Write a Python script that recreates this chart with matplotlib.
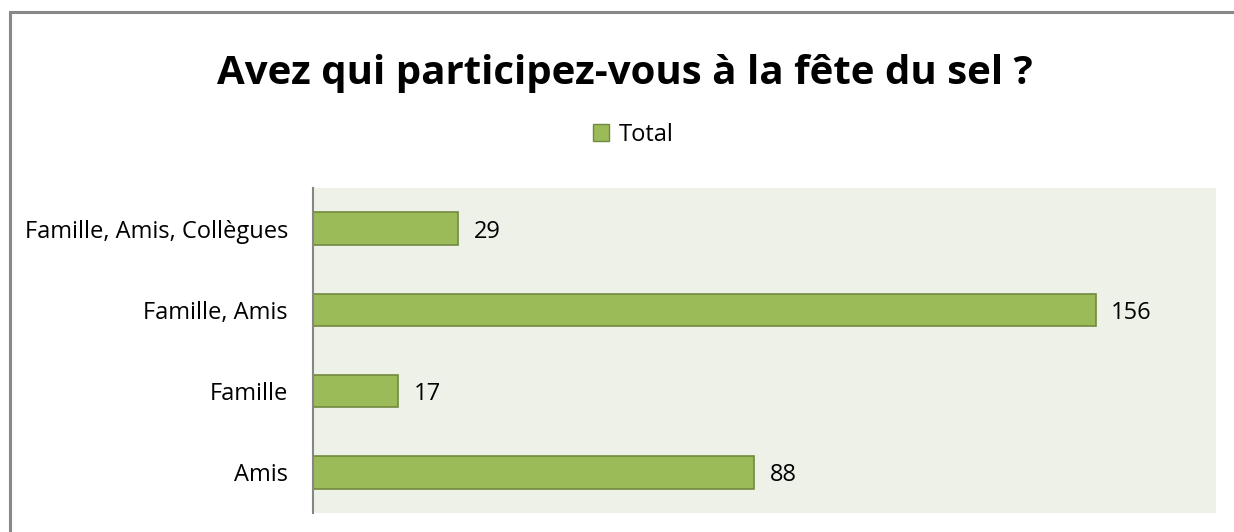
import matplotlib
matplotlib.use("Agg")
import matplotlib.pyplot as plt
from matplotlib.patches import Rectangle, Patch

plt.rcParams['font.family'] = ['Open Sans', 'DejaVu Sans']

# data
categories = ['Amis', 'Famille', 'Famille, Amis', 'Famille, Amis, Collègues']
totals = [88, 17, 156, 29]
title = 'Avez qui participez-vous à la fête du sel ?'
series_name = 'Total'

fig = plt.figure(figsize=(12.34, 5.32), dpi=100)

# outer chart border (only top and left visible in the crop)
fig.patches.append(Rectangle((10 / 1234, -0.1), 1.2, (532 - 12) / 532 + 0.1,
                             transform=fig.transFigure, fill=False,
                             edgecolor='#888888', linewidth=2.2))

ax = fig.add_axes([313 / 1234, (532 - 513) / 532, (1216 - 313) / 1234, (513 - 188) / 532])
ax.set_facecolor('#EEF1E8')

y = range(len(categories))
bars = ax.barh(y, totals, height=0.4, color='#9BBB59', edgecolor='#71893F', linewidth=1.2)

ax.set_xlim(0, 180)
ax.set_ylim(-0.5, len(categories) - 0.5)
ax.set_yticks(list(y))
ax.set_yticklabels(categories, fontsize=17, va='center_baseline')
ax.tick_params(axis='y', length=0, pad=18)
ax.set_xticks([])

for s in ['top', 'right', 'bottom']:
    ax.spines[s].set_visible(False)
ax.spines['left'].set_color('#868686')
ax.spines['left'].set_linewidth(1.5)

for b, v in zip(bars, totals):
    ax.text(b.get_width() + 3, b.get_y() + b.get_height() / 2, str(v),
            va='center_baseline', ha='left', fontsize=17)

fig.text(625 / 1234, 1 - 73 / 532, title, ha='center', va='center',
         fontsize=29, fontweight='bold')

fig.legend(handles=[Patch(facecolor='#9BBB59', edgecolor='#71893F', label=series_name)],
           loc='center', bbox_to_anchor=(633 / 1234, 1 - 135 / 532), frameon=False,
           fontsize=17, handlelength=0.7, handleheight=0.7, handletextpad=0.4)

fig.savefig('out.png', dpi=100, facecolor='white')
